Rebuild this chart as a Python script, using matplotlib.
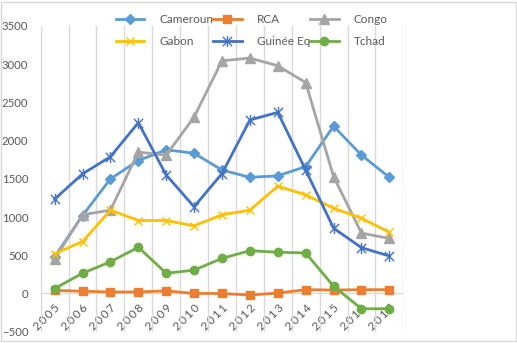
import matplotlib.pyplot as plt
from matplotlib.patches import Rectangle
from matplotlib.path import Path

plt.rcParams['font.family'] = ['Lato', 'DejaVu Sans']

years = ['2005', '2006', '2007', '2008', '2009', '2010', '2011',
         '2012', '2013', '2014', '2015', '2016', '2017']

# values
cameroun = [480, 1020, 1500, 1740, 1880, 1835, 1615, 1520, 1540, 1660, 2190, 1810, 1520]
rca = [40, 30, 20, 20, 35, 0, 0, -20, 5, 50, 45, 50, 50]
congo = [450, 1030, 1090, 1850, 1810, 2310, 3045, 3080, 2980, 2760, 1530, 790, 720]
gabon = [520, 680, 1090, 955, 955, 885, 1030, 1090, 1405, 1290, 1115, 985, 800]
guinee = [1235, 1565, 1790, 2235, 1550, 1135, 1570, 2270, 2370, 1615, 855, 600, 490]
tchad = [65, 265, 415, 605, 265, 305, 460, 560, 540, 530, 95, -200, -200]

# excel-like star: an x with a vertical bar through it
star = Path([(-1, -1), (1, 1), (-1, 1), (1, -1), (0, -1.2), (0, 1.2)],
            [Path.MOVETO, Path.LINETO, Path.MOVETO, Path.LINETO, Path.MOVETO, Path.LINETO])

series = [
    ('Cameroun', cameroun, '#5B9BD5', 'D', 5),
    ('RCA', rca, '#ED7D31', 's', 6),
    ('Congo', congo, '#A5A5A5', '^', 7),
    ('Gabon', gabon, '#FFC000', 'x', 6),
    ('Guinée Eq', guinee, '#4472C4', star, 8),
    ('Tchad', tchad, '#70AD47', 'o', 6),
]

fig = plt.figure(figsize=(5.17, 3.43), dpi=100)
ax = fig.add_axes([40.7 / 517, 1 - 331.7 / 343, (403.3 - 40.7) / 517, (331.7 - 26) / 343])

for s in ['left', 'right', 'top']:
    ax.spines[s].set_visible(False)
ax.spines['bottom'].set_position(('data', 0))
ax.spines['bottom'].set_color('#D9D9D9')

x = range(len(years))
handles = {}
for name, vals, col, mk, ms in series:
    h, = ax.plot(x, vals, color=col, lw=2, marker=mk, markersize=ms,
                 markeredgewidth=1, markeredgecolor=col, markerfacecolor=col,
                 label=name, zorder=3)
    handles[name] = h

ax.set_xlim(-0.5, len(years) - 0.5)
ax.set_ylim(-500, 3500)
ax.set_yticks(range(-500, 3501, 500))
ax.set_xticks(list(x))
ax.set_xticks([i - 0.5 for i in range(len(years) + 1)], minor=True)
ax.grid(axis='x', which='minor', color='#D9D9D9', lw=1)
ax.tick_params(axis='both', which='both', length=0, colors='#595959', labelsize=8.2)
ax.tick_params(axis='y', pad=9)
ax.tick_params(axis='x', pad=6)
# excel spreads the rotated year labels out, thin spaces mimic that
ax.set_xticklabels(['\u2009'.join(y) for y in years], rotation=45, ha='right',
                   va='top', rotation_mode='anchor', fontsize=8.5)

# legend is filled column by column, so order it to read row by row
order = ['Cameroun', 'Gabon', 'RCA', 'Guinée Eq', 'Congo', 'Tchad']
fig.legend([handles[n] for n in order], order, loc='upper center',
           bbox_to_anchor=(0.487, 0.99), ncol=3, frameon=False,
           fontsize=8.5, handlelength=2.4, handletextpad=1.3, columnspacing=0.0,
           labelspacing=0.95, labelcolor='#595959')

fig.patches.append(Rectangle((0.5 / 517, 2.5 / 343), 515 / 517, 339 / 343,
                             transform=fig.transFigure, fill=False,
                             edgecolor='#D9D9D9', lw=1))

fig.savefig('out.png', dpi=100)
